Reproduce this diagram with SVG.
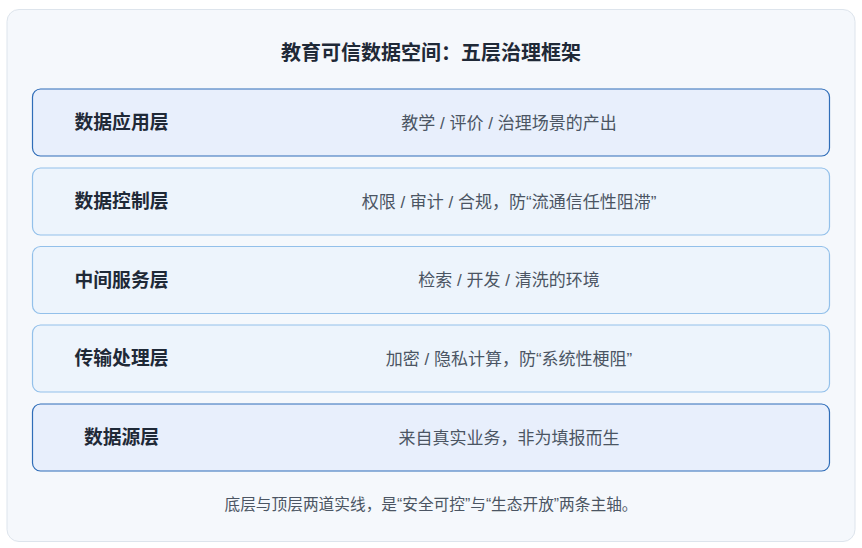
<svg xmlns="http://www.w3.org/2000/svg" width="862" height="548" viewBox="0 0 862 548">
<style>
text{font-family:"Liberation Sans","Noto Sans CJK SC",sans-serif}
.title{font-size:20px;font-weight:700;fill:#1f2937;text-anchor:middle}
.lab{font-size:18.8px;font-weight:700;fill:#1f2937;text-anchor:middle}
.desc{font-size:17px;fill:#4b5563;text-anchor:middle}
.foot{font-size:15.7px;fill:#4b5563;text-anchor:middle}
.strong{fill:#e8effc;stroke:#2f6db8;stroke-width:1.2}
.soft{fill:#edf4fc;stroke:#93c0ea;stroke-width:1.2}
</style>
<rect x="7" y="9.5" width="848" height="532" rx="12" fill="#f5f8fc" stroke="#dde4ec" stroke-width="1"/>
<text class="title" x="431" y="60">教育可信数据空间：五层治理框架</text>
<g id="layer-app">
<rect class="strong" x="32.5" y="89" width="797" height="67" rx="8"/>
<text class="lab" x="121.5" y="129">数据应用层</text>
<text class="desc" x="509" y="128.5">教学 / 评价 / 治理场景的产出</text>
</g>
<g id="layer-control">
<rect class="soft" x="32.5" y="168" width="797" height="67" rx="8"/>
<text class="lab" x="121.5" y="208">数据控制层</text>
<text class="desc" x="509" y="207.5">权限 / 审计 / 合规，防“流通信任性阻滞”</text>
</g>
<g id="layer-service">
<rect class="soft" x="32.5" y="246.5" width="797" height="67" rx="8"/>
<text class="lab" x="121.5" y="286.5">中间服务层</text>
<text class="desc" x="509" y="286">检索 / 开发 / 清洗的环境</text>
</g>
<g id="layer-transport">
<rect class="soft" x="32.5" y="325" width="797" height="67" rx="8"/>
<text class="lab" x="121.5" y="365">传输处理层</text>
<text class="desc" x="509" y="364.5">加密 / 隐私计算，防“系统性梗阻”</text>
</g>
<g id="layer-source">
<rect class="strong" x="32.5" y="404" width="797" height="67" rx="8"/>
<text class="lab" x="121.5" y="444">数据源层</text>
<text class="desc" x="509" y="443.5">来自真实业务，非为填报而生</text>
</g>
<g id="connectors"></g>
<text class="foot" x="431" y="510">底层与顶层两道实线，是“安全可控”与“生态开放”两条主轴。</text>
</svg>
